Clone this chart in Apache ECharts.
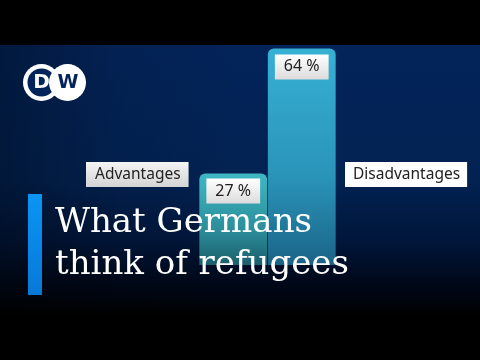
<!DOCTYPE html>
<html>
<head>
<meta charset="utf-8">
<script src="https://cdn.jsdelivr.net/npm/echarts@6/dist/echarts.min.js"></script>
<style>html,body{margin:0;padding:0;background:#000}#c{width:480px;height:360px}</style>
</head>
<body>
<div id="c"></div>
<script>
const categories = ['Advantages', 'Disadvantages'];
const values = [27, 64];
const titleLines = ['What Germans', 'think of refugees'];
const logoText = ['D', 'W'];

const chart = echarts.init(document.getElementById('c'), null, {renderer: 'canvas'});

const barColors = [
  ['#3fb8c4', '#2c8f9c', '#1b5f6c'],
  ['#36b1d4', '#2a93b8', '#1a6486']
];

chart.setOption({
  animation: false,
  backgroundColor: '#000',
  grid: {left: 199, right: 144, top: 45, bottom: 95},
  xAxis: {type: 'category', data: categories, show: false},
  yAxis: {type: 'value', min: 0, max: 65, show: false},
  graphic: [
    {type: 'rect', z: -10, shape: {x: 0, y: 45, width: 480, height: 272},
      style: {fill: new echarts.graphic.LinearGradient(0, 0, 0, 1, [
        {offset: 0, color: '#03245a'},
        {offset: 0.5, color: '#022252'},
        {offset: 0.72, color: '#01163a'},
        {offset: 0.88, color: '#000818'},
        {offset: 1, color: '#000000'}
      ])}, silent: true},
    {type: 'rect', z: -9, shape: {x: 0, y: 45, width: 480, height: 272},
      style: {fill: new echarts.graphic.LinearGradient(0, 0, 1, 0, [
        {offset: 0, color: 'rgba(0,0,0,0.3)'},
        {offset: 0.25, color: 'rgba(0,0,0,0.08)'},
        {offset: 0.5, color: 'rgba(0,0,0,0)'},
        {offset: 1, color: 'rgba(0,0,0,0)'}
      ])}, silent: true},
    // DW logo
    {type: 'circle', z: 50, shape: {cx: 41.5, cy: 82.5, r: 18.5}, style: {fill: '#ffffff'}},
    {type: 'circle', z: 51, shape: {cx: 41.5, cy: 82.5, r: 14}, style: {fill: '#03245a'}},
    {type: 'circle', z: 52, shape: {cx: 67.5, cy: 82.5, r: 18.5}, style: {fill: '#ffffff'}},
    {type: 'text', z: 53, style: {text: logoText[0], x: 41.5, y: 83, align: 'center', verticalAlign: 'middle',
      font: 'bold 20px "DejaVu Sans"', fill: '#ffffff'}},
    {type: 'text', z: 53, style: {text: logoText[1], x: 68, y: 83, align: 'center', verticalAlign: 'middle',
      font: 'bold 19px "DejaVu Sans"', fill: '#03245a'}},
    // category labels
    {type: 'text', z: 60, style: {text: categories[0], x: 86, y: 162,
      font: '15.5px "Noto Sans"', fill: '#222', align: 'left', verticalAlign: 'top',
      backgroundColor: new echarts.graphic.LinearGradient(0, 0, 0, 1, [{offset: 0, color: '#f4f4f4'}, {offset: 1, color: '#d4d4d4'}]),
      padding: [4, 8, 4, 9], lineHeight: 17}},
    {type: 'text', z: 60, style: {text: categories[1], x: 345, y: 162,
      font: '15.5px "Noto Sans"', fill: '#222', align: 'left', verticalAlign: 'top',
      backgroundColor: '#ffffff', padding: [4, 7, 4, 8], lineHeight: 17}},
    // blue bar
    {type: 'rect', z: 60, shape: {x: 28, y: 194, width: 14, height: 101},
      style: {fill: new echarts.graphic.LinearGradient(0, 0, 0, 1, [
        {offset: 0, color: '#0a95f5'}, {offset: 1, color: '#0878d8'}])}},
    // title
    {type: 'text', z: 70, style: {text: titleLines[0], x: 55, y: 223.5, verticalAlign: 'middle',
      font: '500 34px "DejaVu Serif"', fill: '#ffffff'}},
    {type: 'text', z: 70, style: {text: titleLines[1], x: 55, y: 265.5, verticalAlign: 'middle',
      font: '500 34px "DejaVu Serif"', fill: '#ffffff'}}
  ],
  series: [{
    type: 'bar',
    barCategoryGap: '1%',
    data: values.map((v, i) => ({
      value: v,
      itemStyle: {
        borderRadius: [6, 6, 0, 0],
        color: new echarts.graphic.LinearGradient(0, 0, 0, 1, [
          {offset: 0, color: barColors[i][0]},
          {offset: 0.6, color: barColors[i][1]},
          {offset: 1, color: barColors[i][2]}
        ])
      },
      label: {distance: i === 0 ? 5 : 6}
    })),
    label: {
      show: true,
      position: 'insideTop',
      formatter: p => p.value + ' %',
      fontFamily: 'Noto Sans',
      fontSize: 16,
      color: '#222',
      backgroundColor: new echarts.graphic.LinearGradient(0, 0, 0, 1, [{offset: 0, color: '#ffffff'}, {offset: 1, color: '#dcdcdc'}]),
      padding: [4, 9, 4, 9],
      lineHeight: 17
    }
  }]
});
</script>
</body>
</html>
